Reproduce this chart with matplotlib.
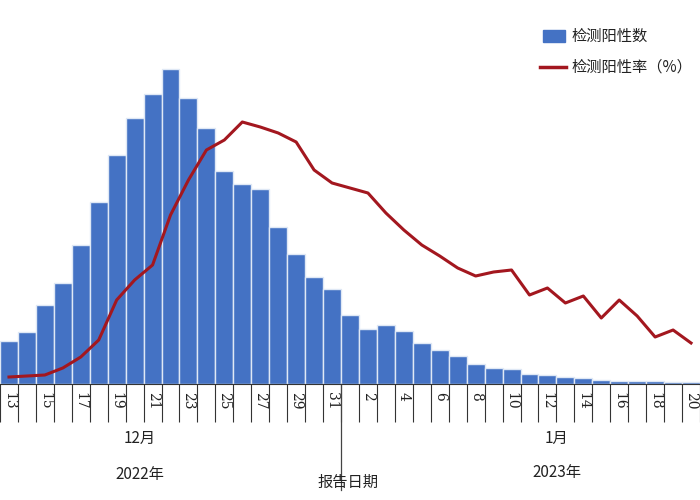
import numpy as np
import matplotlib.pyplot as plt

plt.rcParams["font.family"] = ["Noto Sans CJK SC", "DejaVu Sans"]

# Dec 13 2022 .. Jan 20 2023
day_labels = [str(d) for d in range(13, 32)] + [str(d) for d in range(1, 21)]
positives = [43, 52, 79, 101, 139, 182, 229, 266, 290, 315, 286, 256, 213, 200,
             195, 157, 130, 107, 95, 69, 55, 59, 53, 41, 34, 28, 20, 16, 15,
             10, 9, 7, 6, 4, 3, 3, 3, 2, 2]
rate = [7, 8, 9, 16, 27, 44, 84, 104, 119, 169, 204, 234, 244, 262, 257, 251,
        242, 214, 201, 196, 191, 171, 154, 139, 128, 116, 108, 112, 114, 89,
        96, 81, 88, 66, 84, 68, 47, 54, 41]

W, H = 700, 500
fig = plt.figure(figsize=(7, 5), dpi=100)
ax = fig.add_axes([0, 1 - 384 / H, 1, 384 / H])
x = np.arange(len(day_labels))
ax.bar(x, positives, width=1.0, color="#4472C4", edgecolor="#dfe8f5", linewidth=1.0)
ax.plot(x, rate, color="#A3171F", linewidth=2.2)

ax.set_xlim(-9 / 18.2, (700 - 9) / 18.2)
ax.set_ylim(0, 384)
for s in ["left", "right", "top"]:
    ax.spines[s].set_visible(False)
ax.spines["bottom"].set_color("#333333")
ax.set_yticks([])

ax.set_xticks(x[::2])
ax.set_xticklabels(day_labels[::2], rotation=-90, fontsize=10,
                   fontfamily="DejaVu Serif", color="#222222")
ax.tick_params(axis="x", which="major", length=0, pad=6)
ax.set_xticks(np.arange(-0.5, len(day_labels)), minor=True)
ax.tick_params(axis="x", which="minor", length=27, color="#333333", width=0.8)

# report date line
rx = 18.5
ax.plot([rx, rx], [0, -106 * 384 / 384], color="#444444", lw=0.9, clip_on=False)

def fx(px):
    return px / W

fig.text(fx(140), 1 - 438 / H, "12月", ha="center", va="center", fontsize=11, color="#222222")
fig.text(fx(140), 1 - 474 / H, "2022年", ha="center", va="center", fontsize=11, color="#222222")
fig.text(fx(557), 1 - 438 / H, "1月", ha="center", va="center", fontsize=11, color="#222222")
fig.text(fx(557), 1 - 472 / H, "2023年", ha="center", va="center", fontsize=11, color="#222222")
fig.text(fx(348), 1 - 482 / H, "报告日期", ha="center", va="center", fontsize=11, color="#222222")

# legend
fig.patches.append(plt.Rectangle((fx(543), 1 - 42 / H), 22 / W, 12 / H,
                                 transform=fig.transFigure, color="#4472C4"))
fig.text(fx(572), 1 - 36 / H, "检测阳性数", va="center", fontsize=11, color="#222222")
fig.lines.append(plt.Line2D([fx(540), fx(566)], [1 - 67 / H] * 2,
                            transform=fig.transFigure, color="#A3171F", lw=2.5))
fig.text(fx(572), 1 - 67 / H, "检测阳性率（%）", va="center", fontsize=11, color="#222222")

fig.savefig("out.png", dpi=100)
